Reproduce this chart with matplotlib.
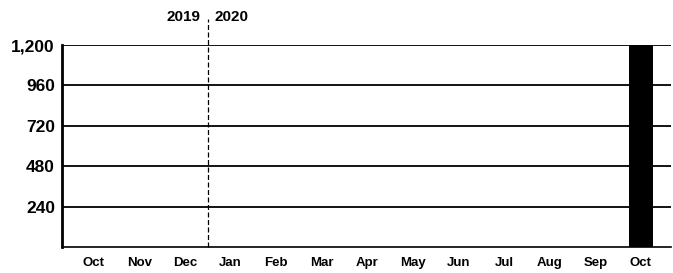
import matplotlib as mpl
mpl.use("Agg")
import matplotlib.pyplot as plt

# data
months = ["Oct", "Nov", "Dec", "Jan", "Feb", "Mar", "Apr",
          "May", "Jun", "Jul", "Aug", "Sep", "Oct"]
values = [0, 0, 0, 0, 0, 0, 0, 0, 0, 0, 0, 0, 1200]
yticks = [240, 480, 720, 960, 1200]
years = ["2019", "2020"]

plt.rcParams["font.family"] = ["Liberation Sans", "DejaVu Sans"]

fig = plt.figure(figsize=(6.73, 2.73), dpi=100)
ax = fig.add_axes([0.092, 0.095, 0.905, 0.74])

x = list(range(len(months)))
ax.bar(x, values, width=0.52, color="black", zorder=3)

ax.set_ylim(0, 1200)
ax.set_xlim(-0.7, 12.66)
ax.set_yticks(yticks)
ax.set_yticklabels([f"{v:,}" for v in yticks], fontsize=12.5, fontweight="bold")
ax.set_xticks(x)
ax.set_xticklabels(months, fontsize=9.5, fontweight="bold")
ax.tick_params(length=0, pad=7)
ax.tick_params(axis="y", pad=5)

# grid
ax.grid(axis="y", color="black", lw=1.3, zorder=1)
for s in ["top", "right"]:
    ax.spines[s].set_visible(False)
ax.spines["left"].set_linewidth(2)
ax.spines["bottom"].set_linewidth(1.2)

# year divider
ax.axvline(2.5, ymin=0, ymax=1.13, color="black", lw=0.9, ls=(0, (4, 2)),
           clip_on=False, zorder=2)
ax.text(2.35, 1.14, years[0], transform=ax.get_xaxis_transform(),
        ha="right", va="center", fontsize=11, fontweight="bold")
ax.text(2.65, 1.14, years[1], transform=ax.get_xaxis_transform(),
        ha="left", va="center", fontsize=11, fontweight="bold")

fig.savefig("out.png", dpi=100)
